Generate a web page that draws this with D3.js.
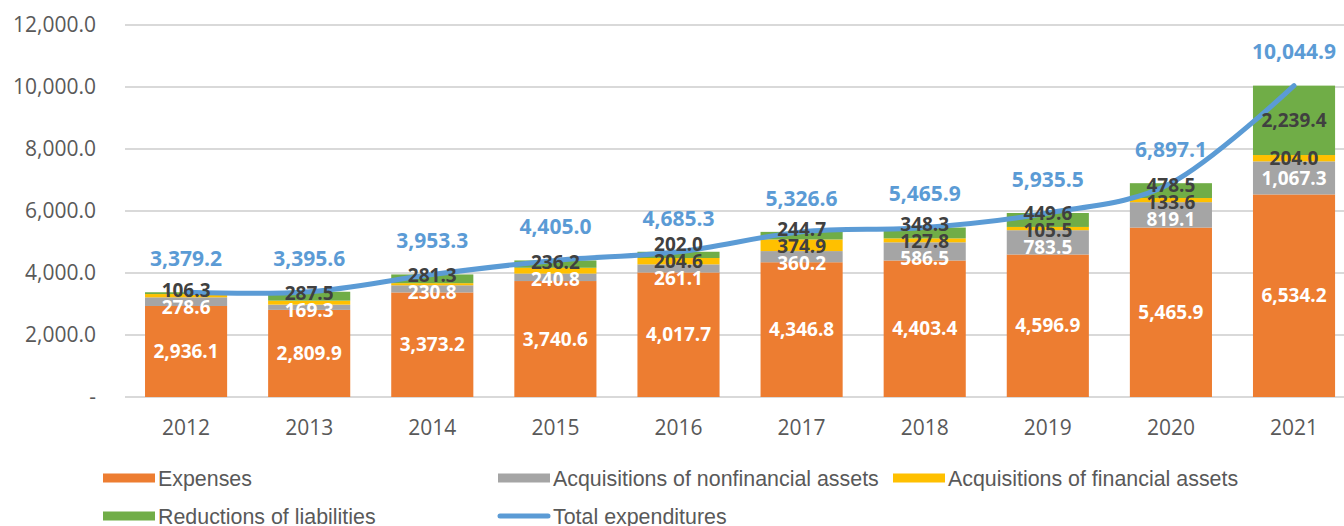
<!DOCTYPE html>
<html>
<head>
    <meta charset="utf-8">
    <title>Expenditures 2012-2021</title>
    <style type="text/css">
        body { margin: 0; background: #fff; }
        .grid line { stroke: #d9d9d9; stroke-width: 1.5; shape-rendering: crispEdges; }
        .axis text { font-family: "Open Sans", sans-serif; font-size: 21px; fill: #595959; }
        .seg-label { font-family: "Open Sans", sans-serif; font-size: 19px; font-weight: bold; }
        .seg-label.total { font-size: 21px; }
        .legend text { font-family: "Liberation Sans", Arial, sans-serif; font-size: 21.4px; fill: #595959; }
    </style>
</head>
<body>
<svg id="chart" width="1344" height="526"></svg>

<script src="https://cdnjs.cloudflare.com/ajax/libs/d3/7.8.5/d3.min.js"></script>
<script type="text/javascript">
    /*=========DATA=========*/
    var years = ['2012', '2013', '2014', '2015', '2016', '2017', '2018', '2019', '2020', '2021'];
    var expenses       = [2936.1, 2809.9, 3373.2, 3740.6, 4017.7, 4346.8, 4403.4, 4596.9, 5465.9, 6534.2];
    var nonfinAssets   = [278.6, 169.3, 230.8, 240.8, 261.1, 360.2, 586.5, 783.5, 819.1, 1067.3];
    var finAssets      = [106.3, 128.9, 68.0, 187.4, 204.6, 374.9, 127.8, 105.5, 133.6, 204.0];
    var liabilities    = [58.2, 287.5, 281.3, 236.2, 202.0, 244.7, 348.3, 449.6, 478.5, 2239.4];
    var totals         = [3379.2, 3395.6, 3953.3, 4405.0, 4685.3, 5326.6, 5465.9, 5935.5, 6897.1, 10044.9];
    var yTicks = [0, 2000, 4000, 6000, 8000, 10000, 12000];
    // labels that the original chart does not show
    var hiddenLabels = ['2012|liabilities', '2013|finAssets', '2014|finAssets', '2015|finAssets'];

    var series = [
        { key: 'expenses',     name: 'Expenses',                             values: expenses,     color: '#ed7d31', text: '#ffffff' },
        { key: 'nonfinAssets', name: 'Acquisitions of nonfinancial assets',  values: nonfinAssets, color: '#a5a5a5', text: '#ffffff' },
        { key: 'finAssets',    name: 'Acquisitions of financial assets',     values: finAssets,    color: '#ffc000', text: '#404040' },
        { key: 'liabilities',  name: 'Reductions of liabilities',            values: liabilities,  color: '#70ad47', text: '#404040' }
    ];
    var lineColor = '#5b9bd5';

    /*=========SIZE=========*/
    var svg = d3.select('#chart');
    var plot = { left: 124.5, right: 1355.6, top: 25, bottom: 397 };

    var x = d3.scaleBand().domain(years).range([plot.left, plot.right])
        .paddingInner(0.333).paddingOuter(0.1667);
    var y = d3.scaleLinear().domain([0, 12000]).range([plot.bottom, plot.top]);
    var fmt = d3.format(',.1f');

    // 网格线
    var grid = svg.append('g').attr('class', 'grid');
    grid.selectAll('line').data(yTicks).enter().append('line')
        .attr('x1', plot.left).attr('x2', 1344)
        .attr('y1', d => Math.round(y(d))).attr('y2', d => Math.round(y(d)));

    // y axis labels
    var yAxis = svg.append('g').attr('class', 'axis');
    yAxis.selectAll('text').data(yTicks).enter().append('text')
        .attr('x', 96).attr('y', d => y(d)).attr('dy', '0.35em')
        .attr('text-anchor', 'end')
        .text(d => d === 0 ? '-' : fmt(d));

    // x axis labels
    yAxis.selectAll('.year').data(years).enter().append('text')
        .attr('class', 'year')
        .attr('x', d => x(d) + x.bandwidth() / 2).attr('y', 428).attr('dy', '0.35em')
        .attr('text-anchor', 'middle')
        .text(d => d);

    // stacked bars
    var rows = years.map(function (yr, i) {
        var r = { year: yr };
        series.forEach(s => { r[s.key] = s.values[i]; });
        return r;
    });
    var stack = d3.stack().keys(series.map(s => s.key))(rows);

    var bars = svg.append('g').attr('class', 'bars');
    stack.forEach(function (layer, si) {
        bars.append('g').attr('fill', series[si].color)
            .selectAll('rect').data(layer).enter().append('rect')
            .attr('x', d => x(d.data.year))
            .attr('width', x.bandwidth())
            .attr('y', d => y(d[1]))
            .attr('height', d => y(d[0]) - y(d[1]));
    });

    // total line (smoothed like the spreadsheet line)
    var line = d3.line()
        .x((d, i) => x(years[i]) + x.bandwidth() / 2)
        .y(d => y(d))
        .curve(d3.curveCardinal.tension(0));
    svg.append('path')
        .attr('d', line(totals))
        .attr('fill', 'none')
        .attr('stroke', lineColor)
        .attr('stroke-width', 5)
        .attr('stroke-linecap', 'round');

    // segment labels, spread apart when they collide
    var labelG = svg.append('g');
    var gap = 17;
    years.forEach(function (yr, i) {
        var labs = [];
        stack.forEach(function (layer, si) {
            var s = series[si];
            if (hiddenLabels.indexOf(yr + '|' + s.key) >= 0) return;
            var d = layer[i];
            labs.push({ s: s, v: s.values[i], y: y((d[0] + d[1]) / 2) });
        });
        for (var it = 0; it < 30; it++) {
            for (var k = 1; k < labs.length; k++) {
                var lo = labs[k - 1], hi = labs[k];
                var diff = lo.y - hi.y;
                if (diff < gap) {
                    var push = (gap - diff) / 2;
                    lo.y += push; hi.y -= push;
                }
            }
        }
        labelG.selectAll(null).data(labs).enter().append('text')
            .attr('class', 'seg-label')
            .attr('x', x(yr) + x.bandwidth() / 2)
            .attr('y', d => d.y).attr('dy', '0.35em')
            .attr('text-anchor', 'middle')
            .attr('fill', d => d.s.text)
            .text(d => fmt(d.v));
    });

    // total labels
    labelG.selectAll('.total').data(totals).enter().append('text')
        .attr('class', 'seg-label total')
        .attr('x', (d, i) => x(years[i]) + x.bandwidth() / 2)
        .attr('y', d => y(d) - 33.5).attr('dy', '0.35em')
        .attr('text-anchor', 'middle')
        .attr('fill', lineColor)
        .text(d => fmt(d));

    // legend
    var legendItems = [
        { name: series[0].name, color: series[0].color, type: 'bar', x: 103, y: 478 },
        { name: series[1].name, color: series[1].color, type: 'bar', x: 498, y: 478 },
        { name: series[2].name, color: series[2].color, type: 'bar', x: 893, y: 478 },
        { name: series[3].name, color: series[3].color, type: 'bar', x: 103, y: 516 },
        { name: 'Total expenditures', color: lineColor, type: 'line', x: 498, y: 516 }
    ];
    var legend = svg.append('g').attr('class', 'legend');
    var item = legend.selectAll('g').data(legendItems).enter().append('g')
        .attr('transform', d => 'translate(' + d.x + ',' + d.y + ')');
    item.filter(d => d.type === 'bar').append('rect')
        .attr('x', 0).attr('y', -4.5).attr('width', 52).attr('height', 9)
        .attr('fill', d => d.color);
    item.filter(d => d.type === 'line').append('line')
        .attr('x1', 2).attr('x2', 50).attr('y1', 0).attr('y2', 0)
        .attr('stroke', d => d.color).attr('stroke-width', 5).attr('stroke-linecap', 'round');
    item.append('text')
        .attr('x', 55).attr('y', 0).attr('dy', '0.35em')
        .text(d => d.name);
</script>
</body>
</html>
